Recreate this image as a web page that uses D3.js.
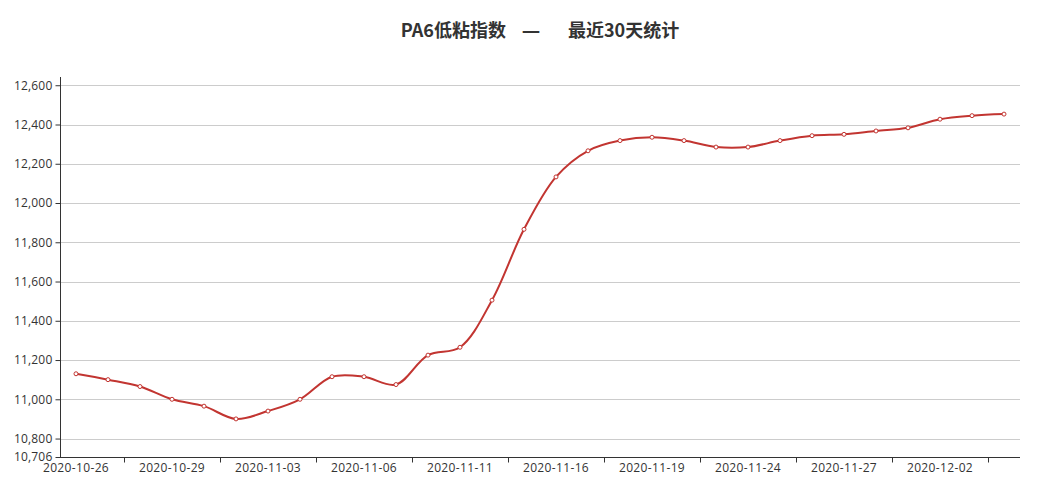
<!DOCTYPE html>
<html><head><meta charset="utf-8">
<script src="https://cdn.jsdelivr.net/npm/d3@7"></script>
<style>
html,body{margin:0;padding:0;background:#fff;}
svg{display:block;font-family:"Noto Sans CJK SC","Noto Sans",sans-serif;}
</style></head>
<body><svg id="chart" width="1040" height="497"></svg>
<script>
const titleParts = ["PA6低粘指数", "—", "最近30天统计"];
const dates = ["2020-10-26","2020-10-27","2020-10-28","2020-10-29","2020-10-30","2020-11-02","2020-11-03","2020-11-04","2020-11-05","2020-11-06",
"2020-11-09","2020-11-10","2020-11-11","2020-11-12","2020-11-13","2020-11-16","2020-11-17","2020-11-18","2020-11-19","2020-11-20",
"2020-11-23","2020-11-24","2020-11-25","2020-11-26","2020-11-27","2020-11-30","2020-12-01","2020-12-02","2020-12-03","2020-12-04"];
const values = [11130,11100,11065,11000,10965,10900,10940,11000,11115,11115,
11075,11225,11265,11505,11866,12133,12266,12318,12335,12318,
12285,12285,12318,12343,12350,12367,12383,12427,12445,12453];
const yTicks = [10706,10800,11000,11200,11400,11600,11800,12000,12200,12400,12600];
const yMin = 10706, yMax = 12642;

const svg = d3.select("#chart");
const mLeft = 60, mRight = 1020, mTop = 77, mBottom = 457;
const labelFont = "'Open Sans','Noto Sans',sans-serif";

const title = svg.append("text").attr("x",540).attr("y",37).attr("text-anchor","middle")
  .attr("font-size",18).attr("font-weight","bold").attr("fill","#333");
title.append("tspan").text(titleParts[0]);
title.append("tspan").attr("dx",16).attr("font-family","'Open Sans',sans-serif").text(titleParts[1]);
title.append("tspan").attr("dx",28).text(titleParts[2]);

const x = d3.scaleBand().domain(dates).range([mLeft,mRight]).paddingInner(0).paddingOuter(0);
const y = d3.scaleLinear().domain([yMin,yMax]).range([mBottom,mTop]);

// grid
svg.append("g").selectAll("line").data(yTicks.filter(t=>t!==yMin)).join("line")
  .attr("x1",mLeft).attr("x2",mRight).attr("y1",d=>Math.round(y(d))+0.5).attr("y2",d=>Math.round(y(d))+0.5)
  .attr("stroke","#ccc").attr("stroke-width",1);

// y axis
const yAxis = d3.axisLeft(y).tickValues(yTicks).tickSize(5).tickPadding(3).tickFormat(d3.format(","));
const gy = svg.append("g").attr("transform",`translate(${mLeft+0.5},0)`).call(yAxis);
gy.select(".domain").attr("stroke","#333").attr("d",`M0,${mBottom}V${mTop}`);
gy.selectAll(".tick line").attr("stroke","#333");
gy.selectAll("text").attr("fill","#333").attr("font-size",12).attr("letter-spacing","0.2px").attr("font-family",labelFont);

// x axis
const labelIdx = d3.range(0,dates.length,3);
const gx = svg.append("g").attr("transform",`translate(0,${mBottom+0.5})`);
gx.append("line").attr("x1",mLeft).attr("x2",mRight).attr("y1",0).attr("y2",0).attr("stroke","#333");
const tickPos = labelIdx.map(i=>dates[i+2]).filter(d=>d!==undefined);
gx.selectAll("line.tk").data(tickPos).join("line").attr("class","tk")
  .attr("x1",d=>Math.round(x(d))+0.5).attr("x2",d=>Math.round(x(d))+0.5).attr("y1",0).attr("y2",5).attr("stroke","#333");
gx.selectAll("text").data(labelIdx.map(i=>dates[i])).join("text")
  .attr("x",d=>x(d)+x.bandwidth()/2).attr("y",14.5).attr("text-anchor","middle")
  .attr("font-size",12).attr("letter-spacing","0.35px").attr("fill","#333").attr("font-family",labelFont).text(d=>d);

// line
const line = d3.line().x((d,i)=>x(dates[i])+x.bandwidth()/2).y(d=>y(d)).curve(d3.curveCatmullRom.alpha(0.5));
svg.append("path").datum(values).attr("d",line).attr("fill","none").attr("stroke","#c23531").attr("stroke-width",2);

svg.append("g").selectAll("circle").data(values).join("circle")
  .attr("cx",(d,i)=>x(dates[i])+x.bandwidth()/2).attr("cy",d=>y(d)).attr("r",2)
  .attr("fill","#fff").attr("stroke","#c23531").attr("stroke-width",1);
</script></body></html>
